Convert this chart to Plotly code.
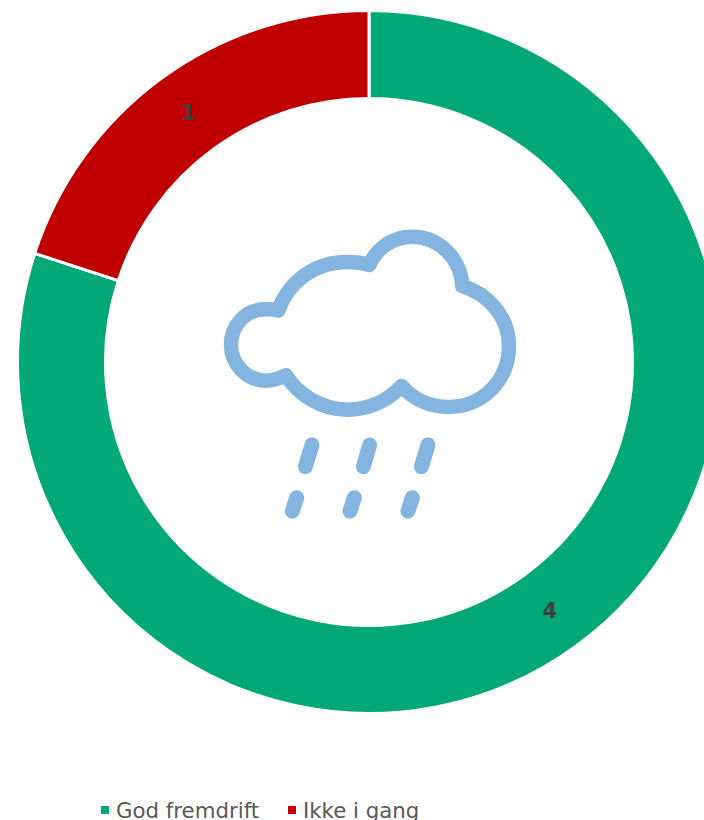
import plotly.graph_objects as go

categories = ["God fremdrift", "Ikke i gang"]
values = [4, 1]
colors = ["#02A876", "#C00000"]

W, H = 740, 820
CX, CY, R = 369, 362, 351.5
ICON = "#84B5E0"


def px(x):
    return f"{x / W:.5f}"


def py(y):
    return f"{1 - y / H:.5f}"


def zoom_pt(x, y):
    return f"{px(210 + x / 3)},{py(220 + y / 3)}"


def path(start, *curves):
    d = "M" + zoom_pt(*start)
    for c in curves:
        d += " C" + " ".join(zoom_pt(*p) for p in c)
    return d + " Z"


cloud = path(
    (205, 272),
    [(192, 266), (178, 268), (165, 268)],
    [(105, 268), (63, 318), (63, 375)],
    [(63, 432), (110, 482), (168, 482)],
    [(190, 482), (210, 475), (228, 466)],
    [(265, 525), (335, 569), (412, 569)],
    [(478, 569), (535, 540), (575, 498)],
    [(610, 538), (660, 561), (715, 561)],
    [(818, 561), (897, 480), (897, 378)],
    [(897, 290), (835, 222), (757, 198)],
    [(752, 115), (688, 50), (605, 50)],
    [(550, 50), (500, 85), (478, 135)],
    [(455, 128), (435, 126), (410, 126)],
    [(315, 126), (235, 185), (205, 272)],
)
drops = [
    ((306, 675), (286, 740)),
    ((479, 675), (460, 740)),
    ((654, 675), (634, 740)),
    ((260, 833), (247, 873)),
    ((433, 833), (420, 873)),
    ((607, 833), (594, 873)),
]

shapes = [dict(type="path", xref="paper", yref="paper", path=cloud,
               line=dict(color=ICON, width=14.5), fillcolor="rgba(0,0,0,0)",
               layer="above")]
for a, b in drops:
    shapes.append(dict(type="path", xref="paper", yref="paper",
                       path=f"M{zoom_pt(*a)} L{zoom_pt(*b)}",
                       line=dict(color=ICON, width=15), layer="above"))

legend_items = [(101, 116), (288, 303)]
annotations = []
for (mx, tx), name, col in zip(legend_items, categories, colors):
    shapes.append(dict(type="rect", xref="paper", yref="paper",
                       x0=mx / W, x1=(mx + 8) / W,
                       y0=1 - 814 / H, y1=1 - 806 / H,
                       fillcolor=col, line=dict(width=0)))
    annotations.append(dict(text=name, xref="paper", yref="paper",
                            x=(tx - 1) / W, y=1 - 797 / H, xanchor="left", yanchor="top",
                            showarrow=False, align="left",
                            font=dict(family="DejaVu Sans", size=21.3, color="#595959"),
                            borderpad=0))

fig = go.Figure(go.Pie(
    labels=categories, values=values, hole=263.5 / R, sort=False,
    direction="clockwise", rotation=0,
    marker=dict(colors=colors, line=dict(color="white", width=3)),
    textinfo="value", textposition="inside", insidetextorientation="horizontal",
    textfont=dict(family="DejaVu Sans", size=21, color="#404040", weight="bold"),
    domain=dict(x=[(CX - R) / W, (CX + R) / W], y=[1 - (CY + R) / H, 1 - (CY - R) / H]),
    showlegend=False,
))
fig.update_layout(width=W, height=H, margin=dict(l=0, r=0, t=0, b=0),
                  paper_bgcolor="white", plot_bgcolor="white",
                  shapes=shapes, annotations=annotations)
fig.write_html("out.html", config=dict(displayModeBar=False),
               post_script="document.body.style.margin='0';"
                           "document.documentElement.style.overflow='hidden';"
                           "document.body.style.overflow='hidden';"
                           "var s=document.createElement('style');"
                           "s.textContent='.shapelayer path{stroke-linecap:round;stroke-linejoin:round}';"
                           "document.head.appendChild(s);")
